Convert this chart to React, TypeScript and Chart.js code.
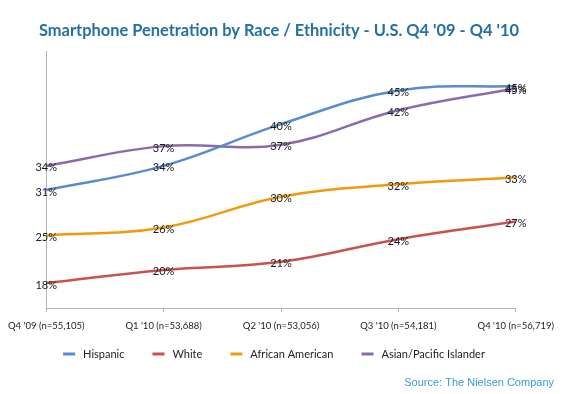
import React, { useEffect, useRef } from "react";
import { Chart, registerables } from "chart.js";

Chart.register(...registerables);

const categories = [
  "Q4 '09 (n=55,105)",
  "Q1 '10 (n=53,688)",
  "Q2 '10 (n=53,056)",
  "Q3 '10 (n=54,181)",
  "Q4 '10 (n=56,719)",
];
const seriesNames = ["Hispanic", "White", "African American", "Asian/Pacific Islander"];
const hispanic = [31.1, 34.4, 40.1, 44.7, 45.3];
const white = [18.4, 20.2, 21.3, 24.4, 26.8];
const africanAmerican = [24.9, 26.0, 30.2, 31.9, 32.8];
const asianPacific = [34.4, 37.1, 37.3, 42.0, 45.0];
const seriesColors = ["#5A8ACF", "#C9514E", "#F09A0E", "#8B6BAE"];
const titleText = "Smartphone Penetration by Race / Ethnicity - U.S. Q4 '09 - Q4 '10";
const sourceText = "Source: The Nielsen Company";

const dataLabelsPlugin = {
  id: "dataLabels",
  afterDatasetsDraw(chart: any) {
    const ctx = chart.ctx;
    ctx.save();
    ctx.font = "11px Lato";
    ctx.fillStyle = "#1a1a1a";
    ctx.textAlign = "center";
    ctx.textBaseline = "middle";
    chart.data.datasets.forEach((ds: any, i: number) => {
      const meta = chart.getDatasetMeta(i);
      meta.data.forEach((pt: any, j: number) => {
        ctx.fillText(Math.round(ds.data[j]) + "%", pt.x, pt.y + 2);
      });
    });
    ctx.restore();
  },
};

const legendAndSourcePlugin = {
  id: "legendAndSource",
  afterDraw(chart: any) {
    const ctx = chart.ctx;
    ctx.save();
    // legend
    ctx.font = "11px Lato";
    ctx.textBaseline = "middle";
    ctx.textAlign = "left";
    const lineW = 12;
    const textGap = 8;
    const itemGap = 28;
    const items = chart.data.datasets.map((ds: any) => ({
      label: ds.label,
      color: ds.borderColor,
      w: lineW + textGap + ctx.measureText(ds.label).width,
    }));
    const total =
      items.reduce((a: number, it: any) => a + it.w, 0) + itemGap * (items.length - 1);
    let x = 274 - total / 2;
    const y = 354;
    items.forEach((it: any) => {
      ctx.fillStyle = it.color;
      ctx.fillRect(x, y - 1.5, lineW, 3);
      ctx.fillStyle = "#222";
      ctx.fillText(it.label, x + lineW + textGap, y);
      x += it.w + itemGap;
    });
    // source
    ctx.font = "11px 'Liberation Sans'";
    ctx.fillStyle = "#3A9AD4";
    ctx.textAlign = "right";
    ctx.fillText(sourceText, 554, 383);
    ctx.restore();
  },
};

export default function App() {
  const ref = useRef<HTMLCanvasElement>(null);
  useEffect(() => {
    if (!ref.current) return;
    const allSeries = [hispanic, white, africanAmerican, asianPacific];
    const chart = new Chart(ref.current, {
      type: "line",
      data: {
        labels: categories,
        datasets: allSeries.map((d, i) => ({
          label: seriesNames[i],
          data: d,
          borderColor: seriesColors[i],
          backgroundColor: seriesColors[i],
          borderWidth: 2.5,
          pointRadius: 0,
          tension: 0.4,
          fill: false,
        })),
      },
      options: {
        responsive: false,
        animation: false,
        layout: { padding: { left: 39, right: 43, top: 0, bottom: 58 } },
        plugins: {
          tooltip: { enabled: false },
          legend: { display: false },
          title: {
            display: true,
            text: titleText,
            color: "#2470A0",
            font: { family: "Lato", size: 17.2, weight: "bold", lineHeight: 1.2 },
            padding: { top: 20, bottom: 11 },
          },
        },
        scales: {
          x: {
            grid: {
              display: true,
              drawOnChartArea: false,
              drawTicks: true,
              tickLength: 4,
              color: "#B5B5B5",
            },
            border: { display: true, color: "#B5B5B5", width: 1 },
            ticks: {
              color: "#222",
              font: { family: "Lato", size: 9.5 },
              padding: 8,
              maxRotation: 0,
              autoSkip: false,
            },
            afterFit: (s: any) => {
              s.height = 28;
            },
          },
          y: {
            min: 15,
            max: 50,
            grid: { display: false },
            border: { display: true, color: "#B5B5B5", width: 1 },
            ticks: { display: false },
            afterFit: (s: any) => {
              s.width = 0;
            },
          },
        },
      },
      plugins: [dataLabelsPlugin, legendAndSourcePlugin],
    });
    return () => chart.destroy();
  }, []);
  return (
    <div style={{ position: "absolute", left: 0, top: 0, width: 562, height: 394, background: "#fff" }}>
      <canvas ref={ref} width={562} height={394} />
    </div>
  );
}
